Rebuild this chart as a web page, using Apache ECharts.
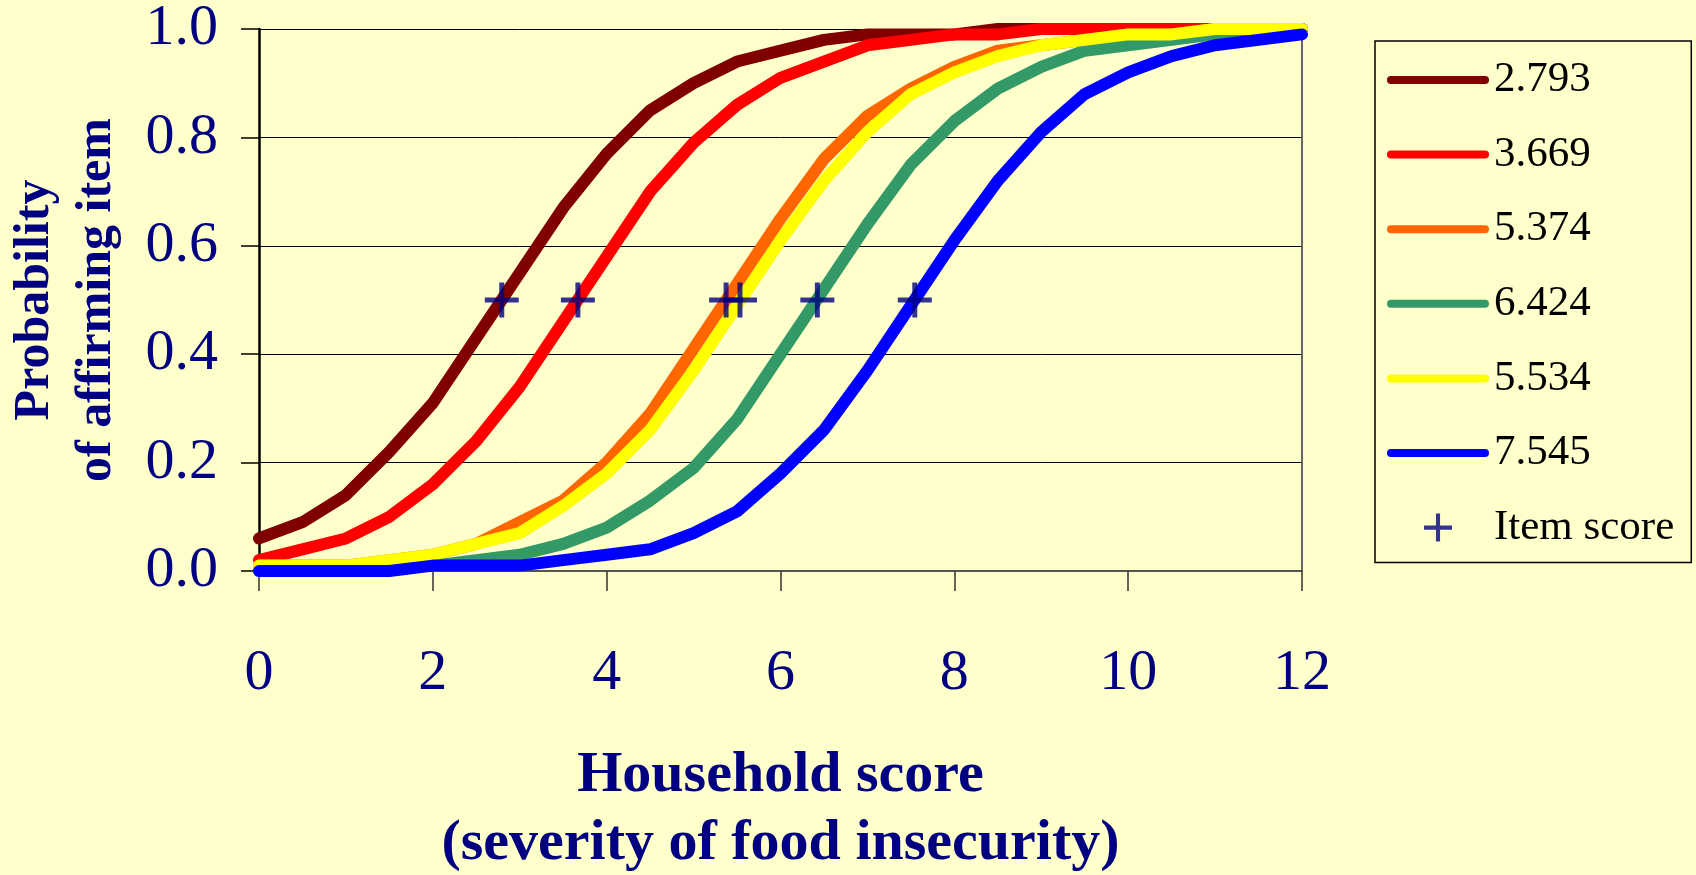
<!DOCTYPE html>
<html>
<head>
<meta charset="utf-8">
<title>Item characteristic curves</title>
<script src="https://cdn.jsdelivr.net/npm/echarts@6/dist/echarts.min.js"></script>
<style>
  html, body { margin: 0; padding: 0; background: #FFFFCC; }
  #chart { width: 1696px; height: 875px; }
</style>
</head>
<body>
<div id="chart"></div>
<script>
// Household score (x) at which each curve is sampled
const householdScores = [0, 0.5, 1, 1.5, 2, 2.5, 3, 3.5, 4, 4.5, 5, 5.5, 6,
                         6.5, 7, 7.5, 8, 8.5, 9, 9.5, 10, 10.5, 11, 11.5, 12];

// Item scores (curve labels) and the probability level where each is marked
const itemScores = [2.793, 3.669, 5.374, 6.424, 5.534, 7.545];
const itemScoreLevel = 0.5;

// Probability of affirming each item, one array per item
const curve2793 = [0.06, 0.09, 0.14, 0.22, 0.31, 0.43, 0.55, 0.67, 0.77, 0.85, 0.90, 0.94, 0.96,
                   0.98, 0.99, 0.99, 0.99, 1.00, 1.00, 1.00, 1.00, 1.00, 1.00, 1.00, 1.00];
const curve3669 = [0.02, 0.04, 0.06, 0.10, 0.16, 0.24, 0.34, 0.46, 0.58, 0.70, 0.79, 0.86, 0.91,
                   0.94, 0.97, 0.98, 0.99, 0.99, 1.00, 1.00, 1.00, 1.00, 1.00, 1.00, 1.00];
const curve5374 = [0.01, 0.01, 0.01, 0.02, 0.03, 0.05, 0.09, 0.13, 0.20, 0.29, 0.41, 0.53, 0.65,
                   0.76, 0.84, 0.89, 0.93, 0.96, 0.97, 0.98, 0.99, 0.99, 1.00, 1.00, 1.00];
const curve6424 = [0.00, 0.00, 0.00, 0.01, 0.01, 0.02, 0.03, 0.05, 0.08, 0.13, 0.19, 0.28, 0.40,
                   0.52, 0.64, 0.75, 0.83, 0.89, 0.93, 0.96, 0.97, 0.98, 0.99, 0.99, 1.00];
const curve5534 = [0.01, 0.01, 0.01, 0.02, 0.03, 0.05, 0.07, 0.12, 0.18, 0.26, 0.37, 0.49, 0.61,
                   0.72, 0.81, 0.88, 0.92, 0.95, 0.97, 0.98, 0.99, 0.99, 1.00, 1.00, 1.00];
const curve7545 = [0.00, 0.00, 0.00, 0.00, 0.01, 0.01, 0.01, 0.02, 0.03, 0.04, 0.07, 0.11, 0.18,
                   0.26, 0.37, 0.49, 0.61, 0.72, 0.81, 0.88, 0.92, 0.95, 0.97, 0.98, 0.99];

const curves = [curve2793, curve3669, curve5374, curve6424, curve5534, curve7545];
const curveColors = ['#800000', '#FF0000', '#FF6600', '#339966', '#FFFF00', '#0000FF'];

const NAVY = '#000080';
const SERIF = '"Liberation Serif", "Times New Roman", serif';
// plus sign used for the item-score markers
const PLUS = 'path://M14.5,0h5v14.5h14.5v5h-14.5v14.5h-5v-14.5h-14.5v-5h14.5z';
// thick line with rounded ends, used as the legend swatch of each curve
const SWATCH = 'path://M4,0H98A4,4,0,0,1,98,8H4A4,4,0,0,1,4,0Z';

const lineSeries = curves.map((vals, k) => ({
  name: itemScores[k].toFixed(3),
  type: 'line',
  data: householdScores.map((x, i) => [x, vals[i]]),
  symbol: 'none',
  showSymbol: false,
  smooth: false,
  color: curveColors[k],
  itemStyle: { color: curveColors[k] },
  lineStyle: { width: 12, color: curveColors[k], cap: 'round', join: 'round' },
  emphasis: { disabled: true },
  z: 2 + k
}));

const markerSeries = {
  name: 'Item score',
  type: 'scatter',
  data: itemScores.map(s => [s, itemScoreLevel]),
  symbol: PLUS,
  symbolSize: [34, 35],
  itemStyle: { color: NAVY },
  emphasis: { disabled: true },
  z: 20
};

const chart = echarts.init(document.getElementById('chart'), null, { renderer: 'canvas' });

chart.setOption({
  animation: false,
  backgroundColor: '#FFFFCC',
  grid: { left: 259, top: 29, right: 394, bottom: 304, containLabel: false, outerBoundsMode: 'none' },
  xAxis: {
    type: 'value',
    min: 0, max: 12, interval: 2,
    axisLine: { show: true, onZero: false, lineStyle: { color: '#555555', width: 2 } },
    axisTick: { show: true, inside: false, length: 20, lineStyle: { color: '#333333', width: 1.5 } },
    axisLabel: { margin: 74, fontFamily: SERIF, fontSize: 58, color: NAVY },
    splitLine: { show: false },
    name: 'Household score\n(severity of food insecurity)',
    nameLocation: 'middle',
    nameGap: 171,
    nameTextStyle: { fontFamily: SERIF, fontWeight: 'bold', fontSize: 58, lineHeight: 68, color: NAVY }
  },
  yAxis: [{
    type: 'value',
    min: 0, max: 1, interval: 0.2,
    axisLine: { show: true, lineStyle: { color: '#000000', width: 2.5 } },
    axisTick: { show: true, inside: false, length: 18, lineStyle: { color: '#000000', width: 1.5 } },
    axisLabel: { margin: 41, fontFamily: SERIF, fontSize: 58, color: NAVY,
                 formatter: v => v.toFixed(1) },
    splitLine: { show: true, lineStyle: { color: '#000000', width: 1 } },
    name: 'Probability\nof affirming item',
    nameLocation: 'middle',
    nameRotate: 90,
    nameGap: 131,
    nameTextStyle: { fontFamily: SERIF, fontWeight: 'bold', fontSize: 50, lineHeight: 62, color: NAVY }
  }, {
    type: 'value',
    position: 'right',
    min: 0, max: 1,
    axisLine: { show: true, lineStyle: { color: '#666666', width: 2 } },
    axisTick: { show: false },
    axisLabel: { show: false },
    splitLine: { show: false }
  }],
  legend: {
    orient: 'vertical',
    left: 1375,
    top: 41,
    padding: [17, 17, 13, 12],
    itemWidth: 102,
    itemHeight: 28,
    itemGap: 30.6,
    symbolKeepAspect: true,
    borderColor: '#000000',
    borderWidth: 1.5,
    backgroundColor: 'rgba(0,0,0,0)',
    textStyle: { fontFamily: SERIF, fontSize: 43, lineHeight: 44, color: '#000000' },
    data: itemScores.map(s => ({ name: s.toFixed(3), icon: SWATCH }))
      .concat([{ name: 'Item score', icon: PLUS }])
  },
  series: lineSeries.concat([markerSeries])
});
</script>
</body>
</html>
